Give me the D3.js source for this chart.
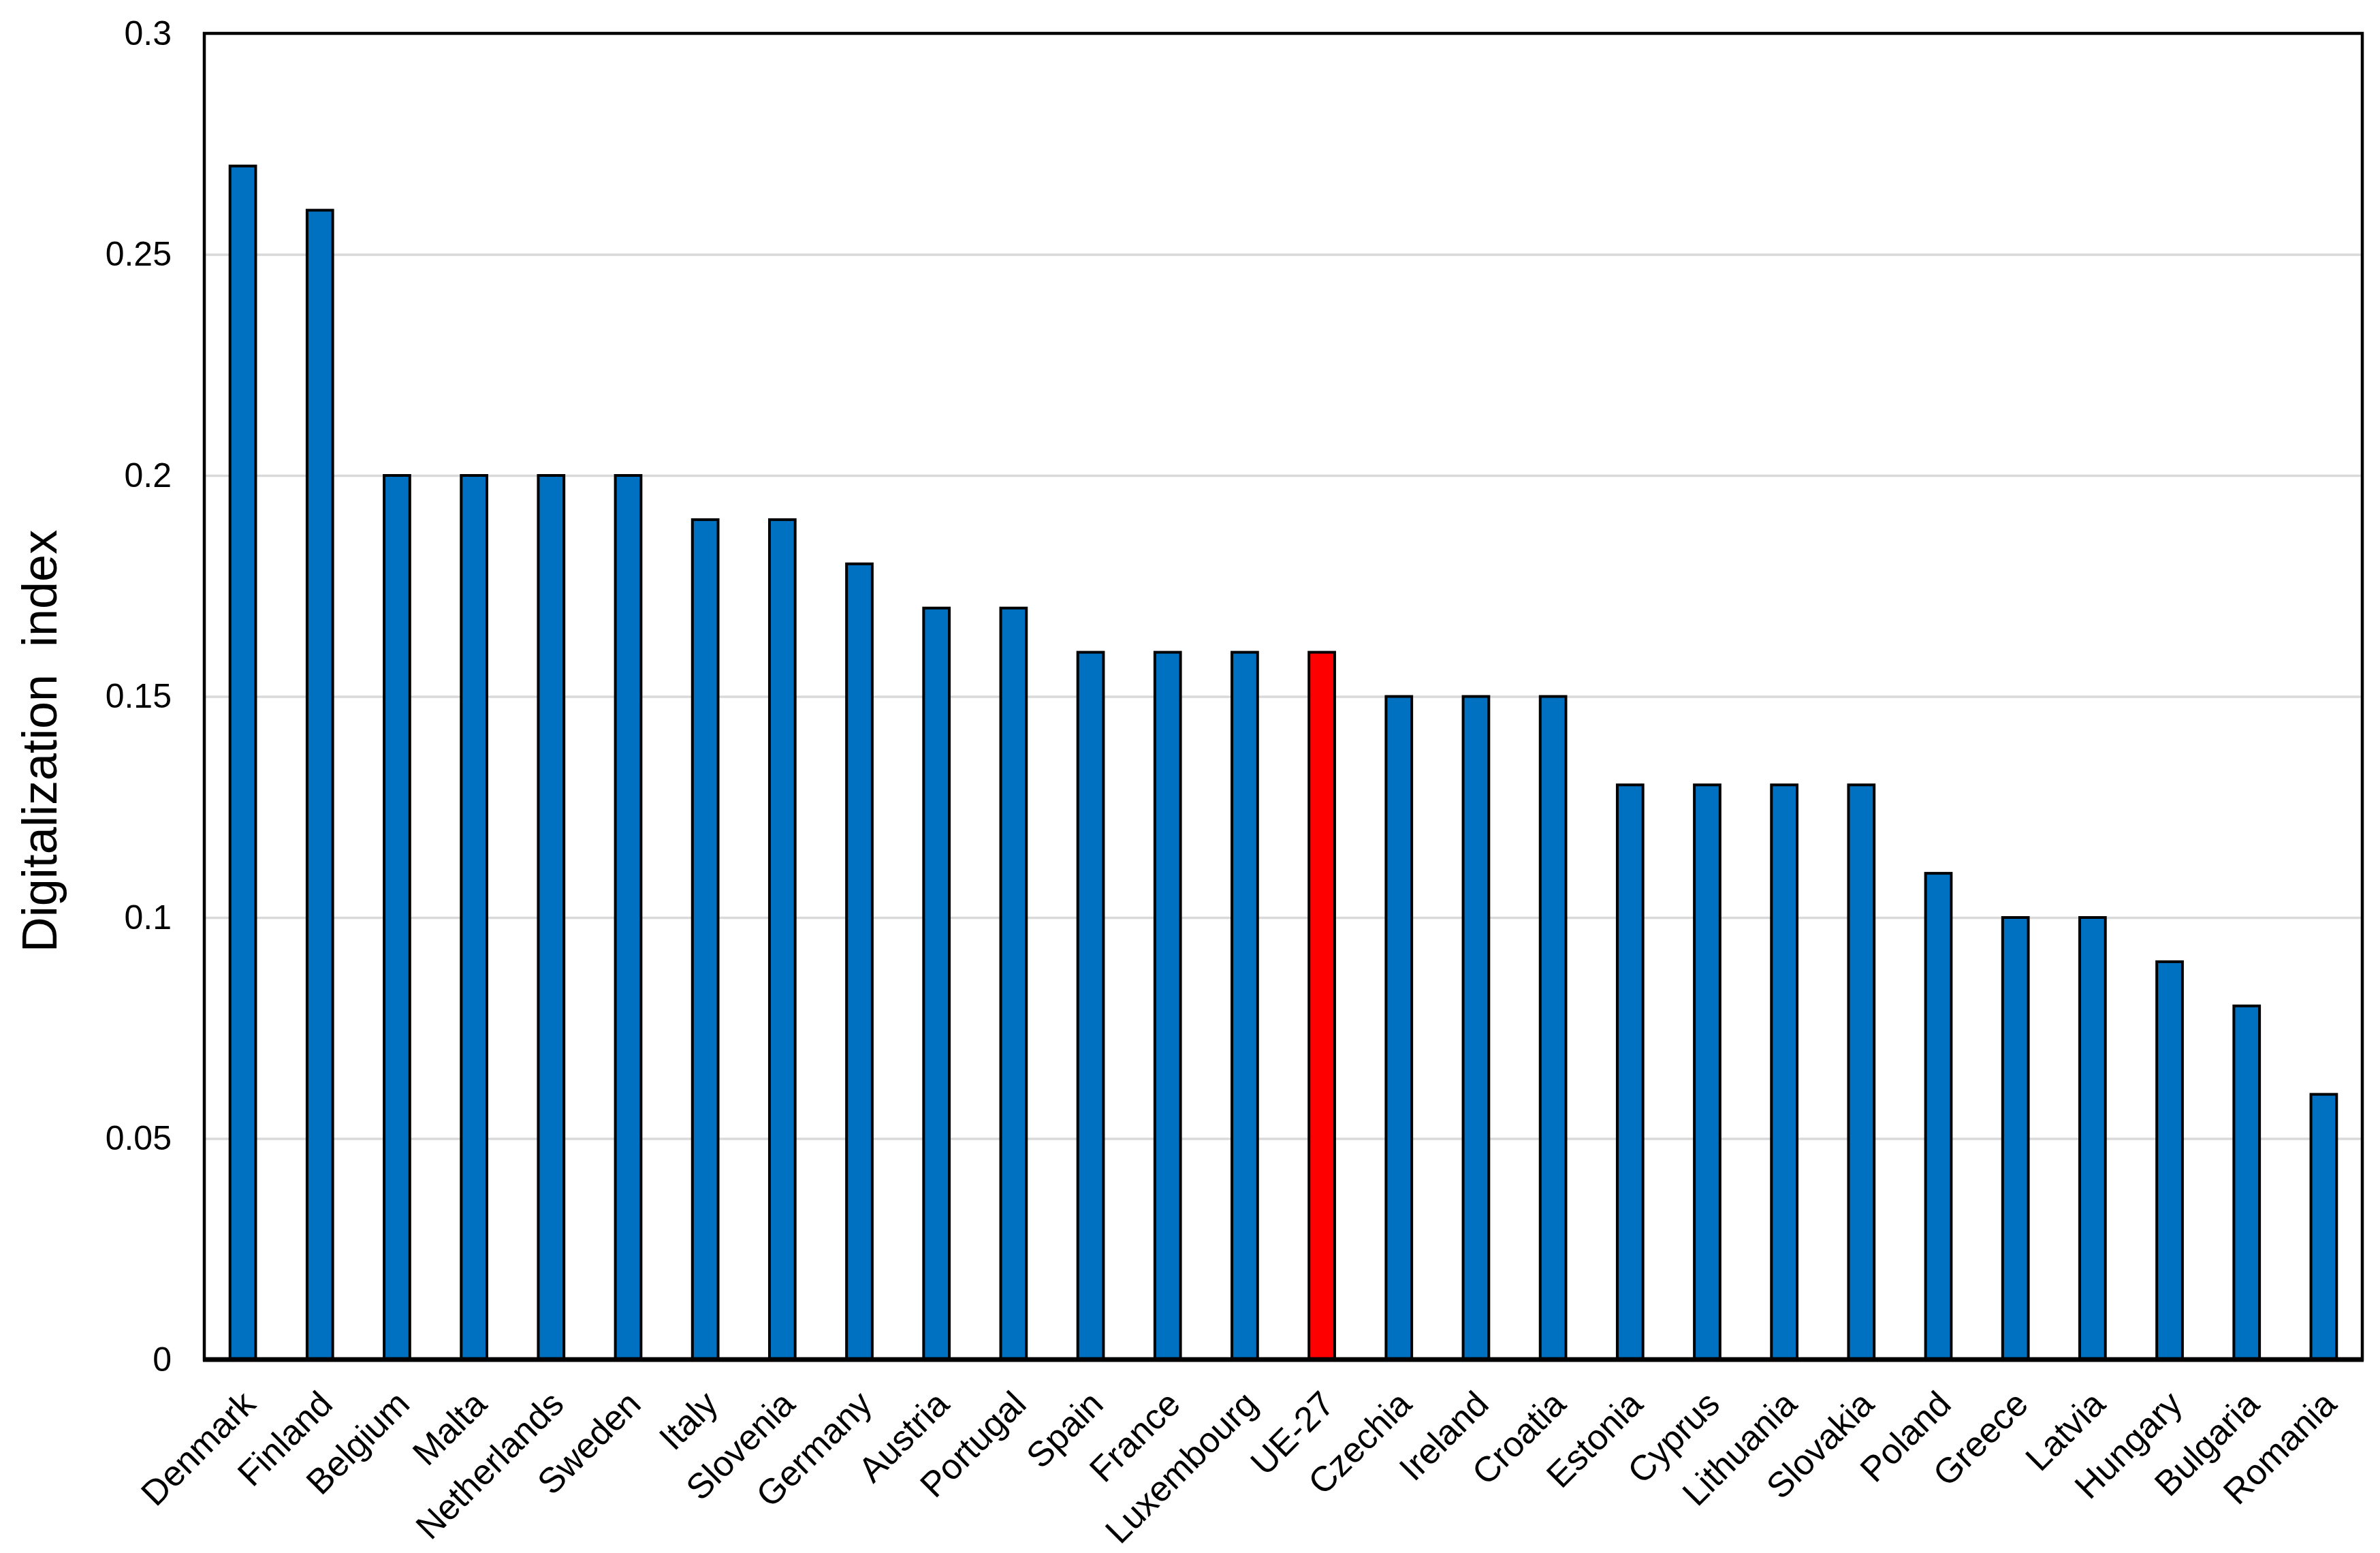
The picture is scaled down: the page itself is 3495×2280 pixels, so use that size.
<!DOCTYPE html>
<html>
<head>
<meta charset="utf-8">
<script src="https://cdn.jsdelivr.net/npm/d3@7"></script>
<style>
  body { margin: 0; background: #fff; }
  text { font-family: "Liberation Sans", Arial, sans-serif; fill: #000; }
</style>
</head>
<body>
<script>
var countries = ["Denmark", "Finland", "Belgium", "Malta", "Netherlands", "Sweden", "Italy", "Slovenia",
  "Germany", "Austria", "Portugal", "Spain", "France", "Luxembourg", "UE-27", "Czechia", "Ireland",
  "Croatia", "Estonia", "Cyprus", "Lithuania", "Slovakia", "Poland", "Greece", "Latvia", "Hungary",
  "Bulgaria", "Romania"]
var index = [0.27, 0.26, 0.20, 0.20, 0.20, 0.20, 0.19, 0.19,
  0.18, 0.17, 0.17, 0.16, 0.16, 0.16, 0.16, 0.15, 0.15,
  0.15, 0.13, 0.13, 0.13, 0.13, 0.11, 0.10, 0.10, 0.09,
  0.08, 0.06]
var yTicks = [0, 0.05, 0.1, 0.15, 0.2, 0.25, 0.3]
var yTickLabels = ["0", "0.05", "0.1", "0.15", "0.2", "0.25", "0.3"]
var highlight = "UE-27"

var W = 3495, H = 2280
var margin = {left: 300, right: 26, top: 49, bottom: 284}
var width = W - margin.left - margin.right
var height = H - margin.top - margin.bottom

var data = countries.map(function(c, i) { return {name: c, value: index[i]} })

var x = d3.scaleBand()
  .domain(countries)
  .range([0, width])
  .paddingInner(2/3)
  .paddingOuter(1/3)
var y = d3.scaleLinear()
  .domain([0, 0.3])
  .range([height, 0])

var svg = d3.select("body").append("svg")
  .attr("width", W)
  .attr("height", H)

var g = svg.append("g")
  .attr("transform", "translate(" + margin.left + "," + margin.top + ")")

//GRID
g.append("g").attr("class", "grid")
  .call(d3.axisLeft(y).tickValues(yTicks.slice(1, -1)).tickSize(-width).tickFormat(""))
  .call(function(s) { s.select(".domain").remove() })
  .selectAll("line")
  .attr("stroke", "#d9d9d9")
  .attr("stroke-width", 3.5)

//BARS
g.selectAll("rect.bar")
  .data(data)
  .enter().append("rect")
  .attr("class", "bar")
  .attr("x", function(d) { return x(d.name) })
  .attr("y", function(d) { return y(d.value) })
  .attr("width", x.bandwidth())
  .attr("height", function(d) { return height - y(d.value) })
  .attr("fill", function(d) { return d.name === highlight ? "#ff0000" : "#0070c0" })
  .attr("stroke", "#000")
  .attr("stroke-width", 4)

//FRAME
g.append("rect")
  .attr("width", width)
  .attr("height", height)
  .attr("fill", "none")
  .attr("stroke", "#000")
  .attr("stroke-width", 4.5)
g.append("line")
  .attr("x1", -2).attr("x2", width + 2)
  .attr("y1", y(0)).attr("y2", y(0))
  .attr("stroke", "#000")
  .attr("stroke-width", 7)

//Y AXIS
var yAxis = g.append("g")
  .call(d3.axisLeft(y).tickValues(yTicks).tickSize(0).tickPadding(48)
    .tickFormat(function(d, i) { return yTickLabels[i] }))
yAxis.select(".domain").remove()
yAxis.selectAll("text")
  .style("font-size", "50px")
  .style("font-family", "Liberation Sans, Arial, sans-serif")

//X AXIS
var xAxis = g.append("g")
  .attr("transform", "translate(0," + height + ")")
  .call(d3.axisBottom(x).tickSize(0))
xAxis.select(".domain").remove()
xAxis.selectAll("text")
  .attr("x", 0)
  .attr("y", 0)
  .attr("dy", "0.72em")
  .attr("transform", "translate(-5,42) rotate(-45)")
  .attr("text-anchor", "end")
  .style("font-size", "52px")
  .style("font-family", "Liberation Sans, Arial, sans-serif")

//TITLE
svg.append("text")
  .attr("transform", "translate(83,1088) rotate(-90)")
  .attr("text-anchor", "middle")
  .style("font-size", "72px")
  .style("white-space", "pre")
  .text("Digitalization  index")
</script>
</body>
</html>
